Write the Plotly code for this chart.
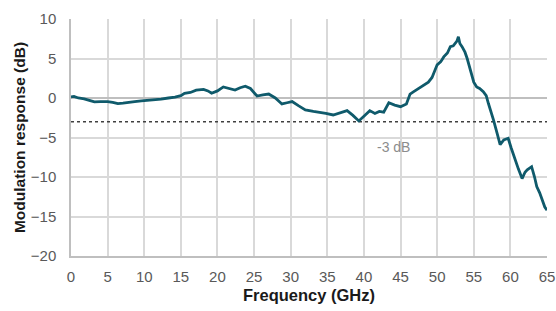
import plotly.graph_objects as go

freq_ghz = [0.0, 0.4, 1.0, 1.8, 2.5, 3.2, 4.0, 5.0, 5.7, 6.4, 7.1, 7.8, 8.7, 9.6, 10.5, 11.4, 12.3, 13.3, 14.2,
            15.0, 15.5, 16.3, 17.1, 18.1, 18.7, 19.2, 20.0, 20.8, 21.6, 22.4, 23.1, 23.8, 24.5, 25.4, 26.2, 27.0,
            27.9, 28.8, 29.5, 30.2, 31.1, 32.0, 33.1, 34.0, 34.8, 35.8, 36.8, 37.7, 38.5, 39.3, 40.0, 40.8,
            41.5, 42.1, 42.7, 43.4, 44.2, 45.0, 45.8, 46.3, 46.8, 47.7, 48.1, 48.8, 49.3, 50.0, 50.5, 50.9,
            51.4, 51.8, 52.2, 52.5, 52.7, 52.9, 53.1, 53.4, 53.8, 54.1, 54.4, 54.7, 55.0, 55.4, 55.8, 56.3,
            56.7, 57.0, 57.4, 57.7, 58.2, 58.6, 59.1, 59.7, 60.1, 60.6, 61.1, 61.6, 62.0, 62.3, 62.9, 63.3,
            63.6, 64.0, 64.3, 64.7, 65.0]
response_db = [0.15, 0.2, 0.0, -0.1, -0.3, -0.5, -0.45, -0.45, -0.55, -0.7, -0.65, -0.6, -0.45, -0.35, -0.3, -0.2, -0.15, 0.0, 0.1,
               0.3, 0.6, 0.7, 1.0, 1.1, 0.9, 0.6, 0.9, 1.4, 1.2, 1.0, 1.3, 1.5, 1.2, 0.25, 0.4, 0.5,
               0.0, -0.75, -0.6, -0.45, -1.0, -1.5, -1.7, -1.8, -1.95, -2.15, -1.9, -1.6, -2.2, -2.9, -2.3, -1.6,
               -1.95, -1.7, -1.8, -0.6, -0.9, -1.1, -0.75, 0.5, 0.8, 1.35, 1.5, 2.0, 2.6, 4.2, 4.6, 5.2,
               5.7, 6.5, 6.6, 6.9, 7.2, 7.75, 6.9, 6.5, 5.8, 5.0, 4.0, 2.9, 2.0, 1.4, 1.2, 0.8,
               0.3, -0.7, -1.8, -2.8, -4.5, -5.9, -5.3, -5.1, -6.3, -7.8, -9.0, -10.2, -9.4, -9.1, -8.7, -10.0,
               -11.2, -12.0, -12.9, -13.8, -14.2]

ref_level_db = -3
ref_label = "-3 dB"
x_ticks = list(range(0, 66, 5))
y_ticks = list(range(-20, 11, 5))

fig = go.Figure()
fig.add_trace(go.Scatter(
    x=[0, 65], y=[ref_level_db, ref_level_db], mode="lines",
    line=dict(color="#404040", width=1.5, dash="dot"), hoverinfo="skip", showlegend=False))
fig.add_trace(go.Scatter(
    x=freq_ghz, y=response_db, mode="lines",
    line=dict(color="#0f5a6b", width=2.8), showlegend=False))

fig.add_annotation(x=44.1, y=-6.2, text=ref_label, showarrow=False,
                   font=dict(family="Arial, Liberation Sans", size=14, color="#8c8c8c"))

axis_font = dict(family="Arial, Liberation Sans", size=15, color="#595959")
fig.update_layout(
    width=556, height=311,
    margin=dict(l=71, r=9, t=19, b=55),
    plot_bgcolor="white", paper_bgcolor="white",
    xaxis=dict(range=[0, 65], tickvals=x_ticks, showgrid=True, gridcolor="#d9d9d9", gridwidth=1.5,
               zeroline=False, showline=True, linecolor="#bfbfbf", linewidth=1.5,
               tickfont=axis_font, ticklabelstandoff=6, automargin=False,
               title=dict(text="<b>Frequency (GHz)</b>", standoff=6,
                          font=dict(family="Arial, Liberation Sans", size=16.5, color="#1a1a1a"))),
    yaxis=dict(range=[-20, 10], tickvals=y_ticks, showgrid=True, gridcolor="#d9d9d9", gridwidth=1.5,
               zeroline=True, zerolinecolor="#bfbfbf", zerolinewidth=1.5,
               showline=True, linecolor="#bfbfbf", linewidth=1.5,
               tickfont=axis_font, ticklabelstandoff=10, automargin=False,
               title=dict(text="<b>Modulation response (dB)</b>", standoff=1,
                          font=dict(family="Arial, Liberation Sans", size=15.5, color="#1a1a1a"))),
)

fig.write_html("out.html", config={"displayModeBar": False},
               post_script="document.body.style.margin='0';document.body.style.padding='0';")
